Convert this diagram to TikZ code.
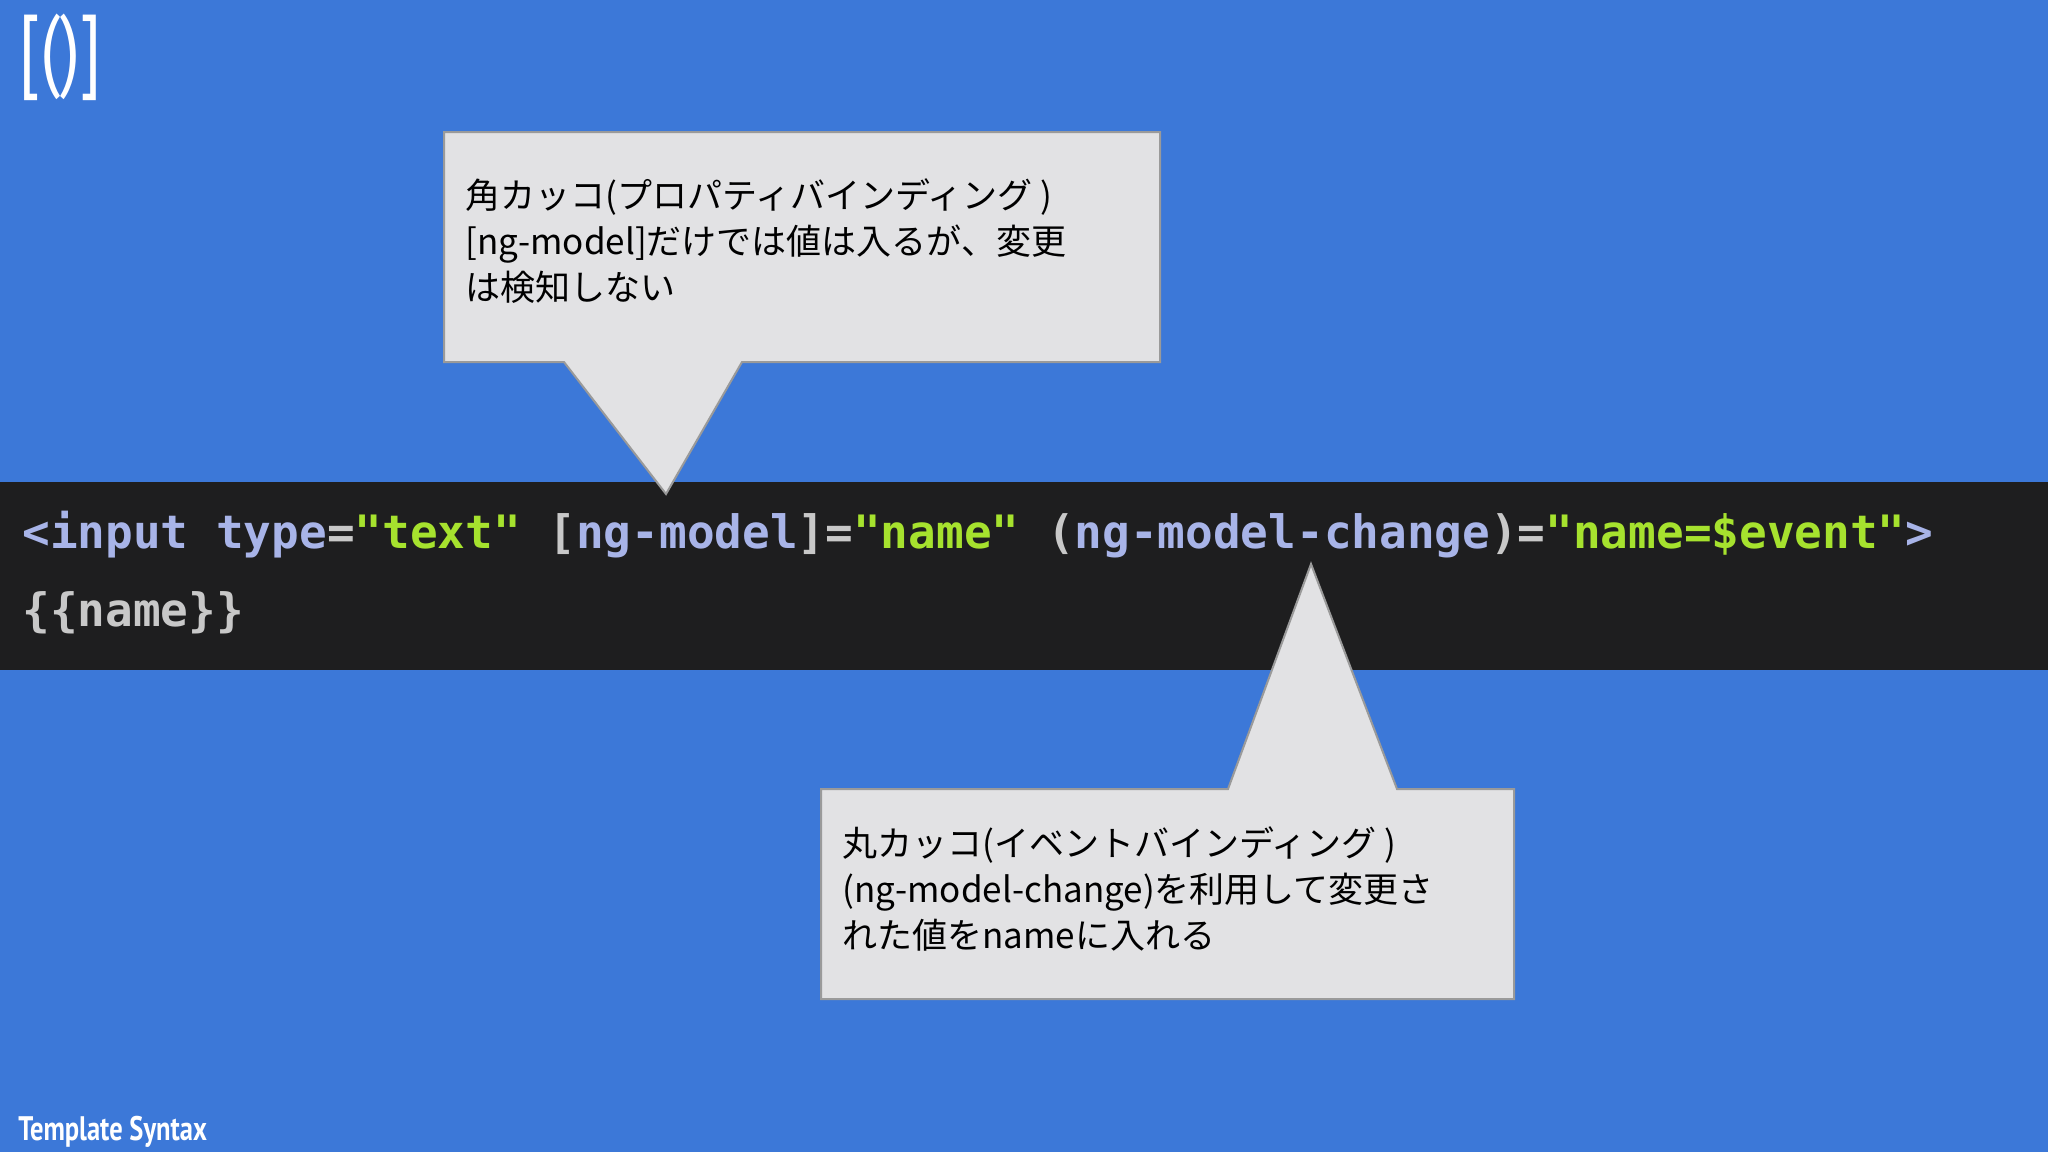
\documentclass[tikz,border=0pt]{standalone}
\usepackage{fontspec}
\newfontfamily\cjk{Noto Sans CJK JP}
\newfontfamily\codef{DejaVu Sans Mono}
\newfontfamily\condf[FakeStretch=0.78]{PT Sans}
\definecolor{bg}{HTML}{3C78D8}
\definecolor{band}{HTML}{1E1E1F}
\definecolor{callfill}{HTML}{E2E2E4}
\definecolor{callline}{HTML}{9A9A9A}
\definecolor{kw}{HTML}{A8B4E8}
\definecolor{str}{HTML}{A6E22E}
\definecolor{pun}{HTML}{C8C8C8}
\begin{document}
\begin{tikzpicture}[x=0.5pt,y=-0.5pt,
  calltext/.style={anchor=north west,inner sep=0pt,align=left,font=\cjk\fontsize{17.5pt}{23pt}\selectfont,text=black},
  callout/.style={fill=callfill,draw=callline,line width=1pt}]
\fill[bg] (0,0) rectangle (2048,1152);
\useasboundingbox (0,0) rectangle (2048,1152);
\fill[band] (0,482) rectangle (2048,670);
\node[anchor=north west,inner sep=0pt,text=white,font=\condf\fontsize{46pt}{46pt}\selectfont] (logo) at (18,14) {[()]};
\node[anchor=south west,inner sep=0pt,text=white,font=\condf\bfseries\fontsize{17pt}{17pt}\selectfont] (foot) at (18,1148) {Template Syntax};
\node[anchor=base west,inner sep=0pt,font=\codef\bfseries\fontsize{23pt}{23pt}\selectfont] (code1) at (22,548)
 {\textcolor{kw}{<input type}\textcolor{pun}{=}\textcolor{str}{"text"} \textcolor{pun}{[}\textcolor{kw}{ng-model}\textcolor{pun}{]=}\textcolor{str}{"name"} \textcolor{pun}{(}\textcolor{kw}{ng-model-change}\textcolor{pun}{)=}\textcolor{str}{"name=\$event"}\textcolor{kw}{>}};
\node[anchor=base west,inner sep=0pt,font=\codef\bfseries\fontsize{23pt}{23pt}\selectfont,text=pun] (code2) at (22,626) {\{\{name\}\}};
\draw[callout] (444,132) -- (1160,132) -- (1160,362) -- (742,362) -- (666,494) -- (564,362) -- (444,362) -- cycle;
\draw[callout] (821,789) -- (1228,789) -- (1311,564) -- (1397,789) -- (1514,789) -- (1514,999) -- (821,999) -- cycle;
\node[calltext] (t1) at (465,178) {角カッコ(プロパティバインディング )\\\relax[ng-model]だけでは値は入るが、変更\\は検知しない};
\node[calltext] (t2) at (842,826) {丸カッコ(イベントバインディング )\\(ng-model-change)を利用して変更さ\\れた値をnameに入れる};
\end{tikzpicture}
\end{document}
